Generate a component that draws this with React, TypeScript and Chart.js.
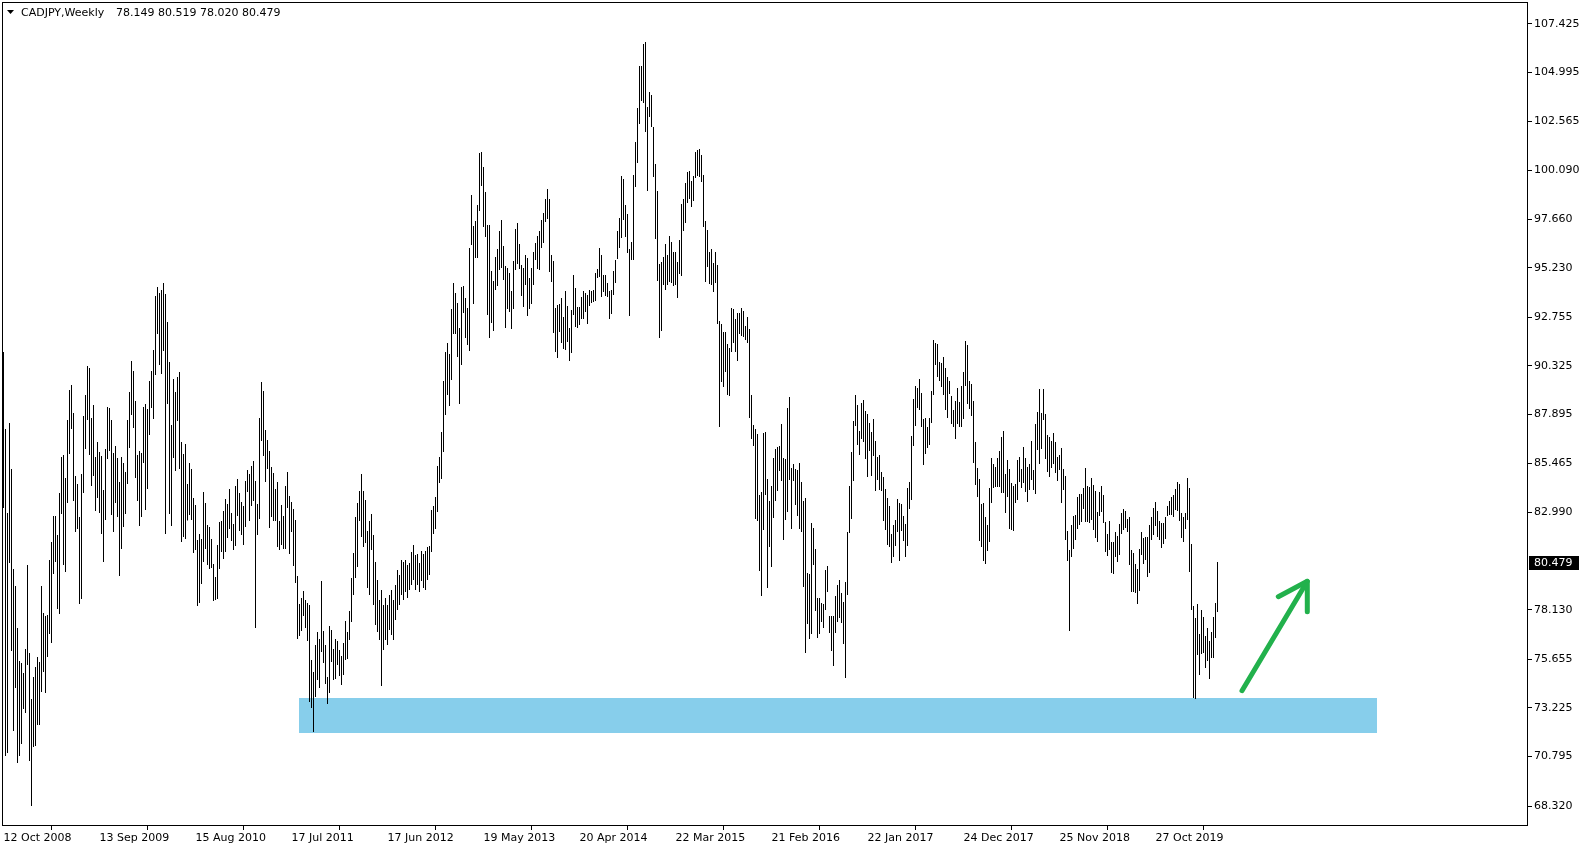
import { useEffect, useRef } from "react";
import { Chart, registerables } from "chart.js";

Chart.register(...registerables);

const symbolTitle = "CADJPY,Weekly";
const lastBarOHLC = ["78.149", "80.519", "78.020", "80.479"];
const lastPrice = 80.479;

const highs = [
  91.02, 87.17, 82.97, 87.47, 85.17, 80.17, 79.32, 77.22, 75.57, 75.47,
  74.97, 76.17, 80.37, 75.97, 73.67, 74.77, 75.27, 75.77, 75.52, 79.32,
  77.97, 77.82, 77.87, 80.62, 81.52, 82.82, 82.82, 81.87, 83.97, 85.77,
  85.87, 84.72, 87.62, 89.12, 89.37, 87.97, 84.82, 84.42, 82.77, 84.92,
  87.82, 88.87, 90.32, 90.22, 87.72, 88.37, 85.77, 86.52, 86.02, 85.82,
  84.12, 86.17, 88.27, 88.22, 87.62, 85.97, 86.32, 85.72, 84.52, 85.77,
  85.47, 85.02, 87.62, 89.02, 90.57, 90.07, 88.57, 85.87, 86.07, 85.97,
  88.27, 88.42, 88.17, 89.57, 90.07, 91.12, 93.82, 94.27, 93.97, 94.12,
  94.47, 93.92, 92.52, 90.52, 87.37, 89.67, 89.02, 89.77, 90.02, 86.52,
  85.92, 86.42, 84.42, 85.47, 85.17, 83.72, 83.37, 81.62, 81.92, 81.67,
  84.02, 83.47, 82.37, 82.27, 81.67, 80.42, 79.77, 81.37, 82.52, 82.57,
  83.07, 83.67, 83.42, 84.17, 82.97, 82.42, 84.32, 84.67, 83.97, 83.52,
  83.32, 84.57, 85.12, 84.92, 85.32, 85.57, 84.57, 83.42, 87.72, 89.52,
  89.07, 87.12, 86.62, 86.07, 85.27, 84.97, 84.17, 84.52, 82.57, 83.37,
  82.82, 84.32, 85.02, 83.82, 83.52, 83.17, 82.62, 79.82, 78.42, 78.72,
  79.07, 78.62, 78.47, 78.37, 75.62, 75.02, 76.37, 77.02, 76.67, 79.57,
  77.07, 76.37, 74.77, 77.32, 77.12, 76.17, 76.67, 76.57, 76.12, 75.82,
  76.47, 77.57, 77.02, 78.07, 79.72, 80.97, 82.77, 83.47, 84.07, 84.92,
  84.07, 83.62, 82.07, 82.57, 82.92, 81.87, 80.52, 79.62, 78.62, 79.12,
  78.37, 78.72, 78.37, 78.87, 79.12, 78.62, 79.37, 80.12, 79.87, 80.62,
  80.52, 80.62, 80.37, 80.47, 81.02, 81.37, 80.87, 80.92, 80.47, 81.07,
  80.92, 81.07, 81.27, 81.32, 83.12, 83.32, 83.77, 85.32, 85.77, 87.02,
  89.57, 91.02, 91.47, 90.92, 93.17, 94.47, 93.97, 93.47, 92.22, 94.27,
  94.32, 93.72, 93.22, 96.22, 98.87, 97.32, 97.57, 98.37, 100.97, 101.02,
  100.27, 99.02, 97.37, 97.37, 95.07, 94.57, 95.77, 96.17, 97.07, 97.62,
  96.32, 95.32, 95.22, 94.97, 94.07, 95.57, 97.17, 97.47, 96.42, 95.37,
  95.22, 95.87, 95.72, 94.72, 95.22, 96.02, 96.47, 96.82, 97.07, 97.62,
  97.97, 98.67, 99.17, 98.67, 95.87, 95.57, 93.22, 93.37, 93.42, 93.72,
  92.77, 94.07, 93.32, 92.22, 93.12, 94.87, 94.22, 93.27, 93.27, 93.77,
  94.07, 93.97, 93.87, 94.12, 94.07, 94.12, 94.97, 95.17, 96.22, 95.87,
  94.87, 94.87, 94.47, 94.07, 94.12, 95.07, 95.62, 97.07, 97.72, 99.82,
  99.67, 98.37, 97.92, 96.17, 96.52, 99.87, 101.52, 103.22, 105.32, 105.32,
  106.42, 106.52, 103.27, 104.02, 103.87, 102.27, 100.42, 99.07, 95.42, 95.52,
  95.77, 96.42, 95.87, 96.82, 96.52, 96.02, 96.02, 95.52, 96.62, 98.42,
  98.67, 99.47, 100.02, 100.07, 99.57, 99.82, 101.02, 101.12, 101.17, 100.87,
  99.87, 97.57, 97.12, 96.02, 96.17, 95.47, 96.02, 95.37, 92.57, 92.42,
  92.02, 92.02, 91.42, 91.22, 93.22, 93.17, 92.67, 92.97, 92.97, 93.22,
  93.07, 92.32, 92.77, 92.17, 88.87, 87.37, 87.17, 86.92, 83.87, 84.02,
  86.97, 87.02, 84.67, 83.57, 84.32, 85.72, 86.17, 86.27, 86.32, 87.42,
  85.72, 85.67, 88.22, 88.77, 85.22, 85.42, 85.17, 85.12, 85.47, 84.52,
  83.57, 83.72, 79.97, 79.92, 82.47, 82.22, 81.17, 78.72, 78.72, 78.47,
  78.42, 80.12, 80.32, 77.82, 77.82, 77.82, 78.82, 79.37, 79.62, 78.97,
  78.52, 79.52, 82.02, 84.32, 86.02, 87.57, 88.87, 88.37, 87.07, 88.47,
  88.62, 88.07, 87.92, 87.47, 87.02, 87.67, 86.57, 85.77, 85.87, 85.02,
  84.77, 84.17, 83.72, 83.32, 81.92, 82.37, 82.62, 83.67, 83.47, 83.42,
  82.82, 82.42, 84.22, 84.52, 86.82, 88.67, 89.32, 89.22, 89.67, 88.97,
  87.67, 87.72, 87.27, 87.72, 89.07, 91.62, 91.47, 91.42, 90.52, 90.47,
  90.77, 90.22, 89.77, 89.57, 88.82, 88.12, 88.57, 89.22, 88.52, 89.32,
  90.02, 91.57, 91.37, 89.57, 89.42, 88.57, 86.52, 85.22, 84.67, 83.42,
  83.47, 82.77, 82.37, 84.22, 85.72, 85.42, 85.27, 85.72, 86.07, 86.77,
  87.07, 84.92, 85.62, 85.17, 84.47, 84.32, 84.42, 85.62, 85.77, 85.17,
  86.27, 85.72, 85.27, 85.42, 86.57, 85.12, 87.42, 88.02, 89.17, 87.97,
  89.17, 87.92, 86.87, 86.77, 86.57, 86.97, 86.52, 85.77, 85.87, 86.22,
  85.17, 84.82, 82.07, 81.12, 82.37, 82.82, 82.87, 83.77, 83.92, 83.92,
  84.22, 85.22, 84.32, 84.27, 84.72, 84.37, 84.07, 83.02, 84.02, 84.32,
  83.87, 82.52, 81.92, 82.57, 81.52, 81.52, 82.02, 81.82, 82.42, 82.97,
  83.17, 83.07, 82.67, 82.77, 81.12, 80.97, 80.42, 80.17, 81.17, 82.02,
  81.72, 81.77, 81.77, 82.37, 82.77, 83.22, 83.52, 83.07, 82.57, 82.47,
  82.47, 82.77, 83.32, 83.57, 83.77, 83.87, 84.17, 84.52, 84.42, 82.97,
  82.77, 82.97, 84.72, 84.22, 81.42, 78.32, 77.72, 78.42, 76.92, 78.12,
  77.77, 76.82, 77.22, 76.57, 77.02, 77.77, 78.47, 80.519,
];

const lows = [
  83.22, 70.82, 70.97, 80.47, 76.07, 72.07, 74.22, 70.47, 70.82, 71.42,
  73.17, 72.97, 75.37, 70.57, 68.32, 71.27, 71.32, 72.37, 72.37, 74.02,
  75.02, 73.97, 75.77, 76.92, 76.47, 79.92, 80.52, 78.17, 77.92, 82.92,
  80.37, 80.02, 83.47, 85.92, 87.17, 83.57, 82.02, 82.17, 78.42, 78.67,
  83.97, 86.17, 87.62, 85.87, 84.32, 84.82, 83.07, 83.72, 82.97, 81.92,
  80.52, 82.62, 85.67, 86.07, 82.87, 82.02, 83.47, 82.77, 79.82, 81.17,
  82.27, 82.92, 84.42, 86.22, 87.87, 87.22, 84.72, 83.57, 82.32, 82.77,
  85.47, 83.12, 84.17, 86.87, 88.22, 87.67, 89.87, 91.92, 90.37, 89.92,
  91.07, 81.92, 88.42, 82.92, 82.32, 85.72, 85.07, 87.57, 85.17, 81.52,
  81.77, 81.67, 82.60, 82.87, 82.62, 80.97, 81.12, 78.32, 78.47, 79.42,
  80.52, 81.17, 80.37, 80.17, 80.22, 78.57, 78.62, 78.67, 80.17, 81.02,
  80.67, 81.02, 81.72, 82.17, 81.57, 81.12, 81.32, 82.82, 82.07, 81.87,
  81.37, 82.27, 84.02, 82.57, 83.32, 83.57, 77.22, 81.87, 82.67, 86.57,
  85.82, 84.52, 85.17, 82.22, 82.77, 82.57, 82.57, 81.27, 81.12, 81.37,
  81.17, 81.17, 83.22, 80.92, 82.02, 80.32, 79.47, 76.67, 76.82, 77.07,
  77.82, 77.22, 76.57, 73.52, 73.22, 72.02, 73.77, 74.62, 74.22, 76.02,
  75.47, 74.42, 73.42, 73.97, 75.52, 74.62, 74.67, 75.37, 74.82, 74.37,
  74.87, 75.62, 75.67, 76.62, 77.52, 78.87, 79.72, 80.27, 82.57, 81.77,
  81.27, 81.47, 79.22, 78.87, 81.12, 78.37, 77.37, 77.02, 76.62, 74.32,
  76.12, 76.62, 76.37, 77.12, 76.87, 76.62, 77.62, 78.12, 78.37, 78.87,
  78.62, 79.02, 78.72, 79.12, 79.37, 79.62, 79.12, 79.37, 79.02, 79.57,
  79.22, 79.12, 79.62, 79.87, 81.02, 81.92, 82.17, 83.02, 84.47, 84.67,
  86.02, 87.87, 88.87, 88.32, 89.62, 91.92, 91.92, 90.77, 88.42, 90.37,
  92.97, 91.72, 91.37, 91.07, 96.37, 93.42, 95.72, 95.72, 98.07, 99.32,
  97.27, 96.77, 92.87, 91.72, 92.47, 92.07, 94.12, 94.32, 95.12, 95.22,
  94.62, 92.22, 93.17, 93.02, 92.17, 93.17, 95.12, 95.42, 95.17, 93.82,
  93.27, 94.37, 92.82, 93.17, 93.42, 94.37, 95.62, 95.17, 95.12, 96.22,
  96.47, 97.52, 97.67, 95.02, 94.52, 91.97, 91.02, 90.72, 92.02, 91.47,
  91.17, 91.12, 91.52, 90.57, 90.97, 92.87, 92.27, 92.22, 92.37, 92.67,
  92.67, 93.02, 92.42, 93.32, 93.47, 93.52, 93.57, 94.72, 94.77, 93.77,
  94.02, 93.82, 93.77, 92.67, 92.92, 93.87, 94.47, 95.67, 96.22, 96.72,
  97.62, 96.77, 95.97, 92.82, 95.62, 95.62, 99.27, 100.47, 102.42, 103.57,
  103.47, 102.02, 99.07, 102.77, 102.27, 99.77, 96.67, 94.57, 91.72, 92.07,
  94.37, 94.12, 94.37, 94.52, 94.47, 94.32, 94.37, 93.72, 94.92, 94.82,
  97.07, 97.47, 98.47, 98.67, 98.27, 98.57, 99.72, 99.82, 99.77, 99.52,
  97.27, 94.52, 95.27, 94.42, 94.37, 94.02, 94.47, 92.42, 87.27, 89.52,
  89.27, 90.02, 88.87, 88.82, 91.02, 91.47, 91.02, 90.57, 91.92, 91.82,
  91.77, 91.62, 91.47, 87.72, 86.67, 86.32, 82.67, 82.57, 80.07, 78.82,
  82.12, 83.87, 79.22, 81.27, 80.27, 82.72, 83.57, 84.07, 85.07, 84.57,
  81.62, 82.62, 83.02, 84.62, 82.17, 84.57, 83.37, 82.82, 82.17, 82.02,
  79.27, 75.97, 77.42, 76.67, 76.92, 80.37, 78.07, 76.72, 76.92, 77.52,
  77.22, 78.12, 79.02, 76.97, 76.07, 75.32, 76.97, 77.52, 77.72, 77.47,
  76.42, 74.72, 78.87, 81.97, 82.67, 84.57, 87.32, 86.37, 85.87, 86.67,
  86.52, 85.67, 84.77, 86.07, 84.82, 85.82, 84.07, 84.62, 84.12, 84.07,
  82.57, 82.12, 81.37, 81.27, 80.47, 80.77, 81.32, 82.02, 80.57, 82.07,
  81.57, 80.77, 81.32, 83.17, 83.62, 86.32, 87.32, 88.22, 88.12, 87.27,
  85.37, 85.92, 86.22, 86.37, 87.47, 88.87, 90.37, 89.77, 89.57, 89.27,
  88.87, 88.12, 87.72, 88.92, 87.42, 87.27, 86.67, 87.42, 87.27, 87.27,
  87.67, 89.32, 88.42, 88.17, 87.82, 85.47, 84.37, 83.77, 81.57, 81.27,
  80.57, 80.42, 81.07, 81.52, 83.47, 84.22, 84.27, 84.27, 84.27, 83.97,
  83.97, 82.97, 83.77, 82.17, 82.12, 82.07, 83.47, 83.62, 84.52, 84.22,
  84.47, 84.02, 83.52, 84.12, 84.62, 84.12, 83.92, 86.12, 85.42, 86.17,
  87.62, 85.67, 85.02, 84.77, 85.22, 85.42, 84.97, 84.57, 85.12, 83.47,
  84.12, 81.62, 80.57, 77.07, 80.77, 81.17, 81.62, 82.17, 82.37, 82.52,
  83.17, 82.52, 82.52, 82.47, 82.62, 82.12, 81.72, 81.52, 82.82, 83.02,
  82.47, 81.02, 80.82, 81.12, 79.97, 79.92, 80.77, 80.52, 80.87, 81.92,
  82.12, 82.22, 82.02, 80.37, 79.02, 79.02, 78.97, 78.42, 79.07, 80.87,
  80.42, 80.62, 79.77, 79.97, 81.62, 81.87, 82.32, 81.77, 81.62, 81.22,
  81.42, 81.67, 82.82, 82.87, 82.87, 82.77, 83.12, 83.07, 82.57, 81.72,
  81.52, 82.17, 82.62, 80.02, 78.12, 73.72, 73.67, 75.87, 74.87, 75.92,
  75.97, 75.22, 75.57, 74.67, 75.72, 75.72, 76.72, 78.02,
];

const dateTickBars = [0, 48, 96, 144, 192, 240, 288, 336, 384, 432, 480, 528, 576];
const dateTickLabels = [
  "12 Oct 2008", "13 Sep 2009", "15 Aug 2010", "17 Jul 2011", "17 Jun 2012",
  "19 May 2013", "20 Apr 2014", "22 Mar 2015", "21 Feb 2016", "22 Jan 2017",
  "24 Dec 2017", "25 Nov 2018", "27 Oct 2019",
];
const priceTicks = [
  107.425, 104.995, 102.565, 100.09, 97.66, 95.23, 92.755, 90.325, 87.895,
  85.465, 82.99, 78.13, 75.655, 73.225, 70.795, 68.32,
];

// support zone and arrow annotation, in bar-index / price units
const zoneBars = [147.75, 686.75];
const zonePrices = [71.97, 73.72];
const arrowShaft = [[619.25, 74.085], [651.9, 79.555]];
const arrowHead = [[637.4, 78.785], [651.9, 79.555], [651.9, 78.035]];

const FONT = '"DejaVu Sans", Verdana, sans-serif';

const overlayPlugin = {
  id: "overlay",
  beforeDatasetsDraw(chart: any) {
    const { ctx } = chart;
    const x = chart.scales.x;
    const y = chart.scales.y;
    const x0 = x.getPixelForValue(zoneBars[0]);
    const x1 = x.getPixelForValue(zoneBars[1]);
    const y0 = y.getPixelForValue(zonePrices[1]);
    const y1 = y.getPixelForValue(zonePrices[0]);
    ctx.save();
    ctx.fillStyle = "#87CEEB";
    ctx.fillRect(x0, y0, x1 - x0, y1 - y0);
    ctx.restore();
  },
  afterDatasetsDraw(chart: any) {
    const { ctx } = chart;
    const x = chart.scales.x;
    const y = chart.scales.y;
    ctx.save();
    ctx.strokeStyle = "#22B14C";
    ctx.lineWidth = 5;
    ctx.lineCap = "round";
    ctx.lineJoin = "round";
    ctx.beginPath();
    ctx.moveTo(x.getPixelForValue(arrowShaft[0][0]), y.getPixelForValue(arrowShaft[0][1]));
    ctx.lineTo(x.getPixelForValue(arrowShaft[1][0]), y.getPixelForValue(arrowShaft[1][1]));
    ctx.stroke();
    ctx.beginPath();
    arrowHead.forEach((p, k) => {
      const px = x.getPixelForValue(p[0]);
      const py = y.getPixelForValue(p[1]);
      if (k === 0) ctx.moveTo(px, py);
      else ctx.lineTo(px, py);
    });
    ctx.stroke();
    ctx.restore();
  },
  afterDraw(chart: any) {
    const { ctx, chartArea } = chart;
    const y = chart.scales.y;
    ctx.save();
    // frame
    ctx.strokeStyle = "#000";
    ctx.lineWidth = 1;
    ctx.strokeRect(
      chartArea.left + 0.5,
      chartArea.top + 0.5,
      chartArea.right - chartArea.left - 1,
      chartArea.bottom - chartArea.top - 1
    );
    // title
    ctx.fillStyle = "#000";
    ctx.beginPath();
    ctx.moveTo(7, 10);
    ctx.lineTo(14, 10);
    ctx.lineTo(10.5, 14);
    ctx.closePath();
    ctx.fill();
    ctx.font = "11px " + FONT;
    ctx.textBaseline = "middle";
    ctx.textAlign = "left";
    ctx.fillText(symbolTitle, 21, 13);
    ctx.fillText(lastBarOHLC.join(" "), 116, 13);
    // current price label
    const py = Math.round(y.getPixelForValue(lastPrice));
    ctx.fillStyle = "#000";
    ctx.fillRect(chartArea.right + 1, py - 7, 50, 14);
    ctx.fillStyle = "#fff";
    ctx.font = "11px " + FONT;
    ctx.fillText(lastPrice.toFixed(3), chartArea.right + 6, py + 0.5);
    ctx.restore();
  },
};

export default function App() {
  const ref = useRef<HTMLCanvasElement | null>(null);
  useEffect(() => {
    const canvas = ref.current;
    if (!canvas) return;
    const points = highs.map((h, i) => ({ x: i, y: [lows[i], h] }));
    const chart = new Chart(canvas, {
      type: "bar",
      data: {
        datasets: [
          {
            data: points as any,
            backgroundColor: "#000",
            borderWidth: 0,
            barThickness: 1,
            inflateAmount: 0,
            grouped: false,
          } as any,
        ],
      },
      options: {
        animation: false,
        responsive: false,
        devicePixelRatio: 1,
        events: [],
        layout: { autoPadding: false, padding: { left: 2, top: 2, right: 0, bottom: 0 } },
        plugins: { legend: { display: false }, tooltip: { enabled: false } },
        scales: {
          x: {
            type: "linear",
            min: -0.75,
            max: 762.25,
            offset: false,
            border: { display: false },
            grid: { display: true, drawOnChartArea: false, drawTicks: true, tickLength: 4, color: "#000", lineWidth: 1 },
            ticks: {
              autoSkip: false,
              maxRotation: 0,
              minRotation: 0,
              align: "start",
              padding: 2,
              color: "#000",
              font: { family: FONT, size: 11 },
              callback: (v: any) => {
                const k = dateTickBars.indexOf(Number(v));
                return k >= 0 ? dateTickLabels[k] : "";
              },
            },
            afterBuildTicks: (s: any) => {
              s.ticks = dateTickBars.map((v) => ({ value: v }));
            },
            afterFit: (s: any) => {
              s.height = 24;
              s.paddingLeft = 0;
              s.paddingRight = 0;
              s.paddingTop = 0;
              s.paddingBottom = 0;
            },
          } as any,
          y: {
            type: "linear",
            position: "right",
            min: 67.32,
            max: 108.52,
            border: { display: false },
            grid: { display: true, drawOnChartArea: false, drawTicks: true, tickLength: 4, color: "#000", lineWidth: 1 },
            ticks: {
              autoSkip: false,
              padding: 2,
              color: "#000",
              font: { family: FONT, size: 11 },
              callback: (v: any) => Number(v).toFixed(3),
            },
            afterBuildTicks: (s: any) => {
              s.ticks = priceTicks.map((v) => ({ value: v }));
            },
            afterFit: (s: any) => {
              s.width = 56;
              s.paddingLeft = 0;
              s.paddingRight = 0;
              s.paddingTop = 0;
              s.paddingBottom = 0;
            },
          } as any,
        },
      },
      plugins: [overlayPlugin],
    });
    return () => chart.destroy();
  }, []);
  return (
    <div style={{ position: "fixed", left: 0, top: 0, width: 1584, height: 850, background: "#fff" }}>
      <canvas ref={ref} width={1584} height={850} style={{ display: "block", width: 1584, height: 850 }} />
    </div>
  );
}
